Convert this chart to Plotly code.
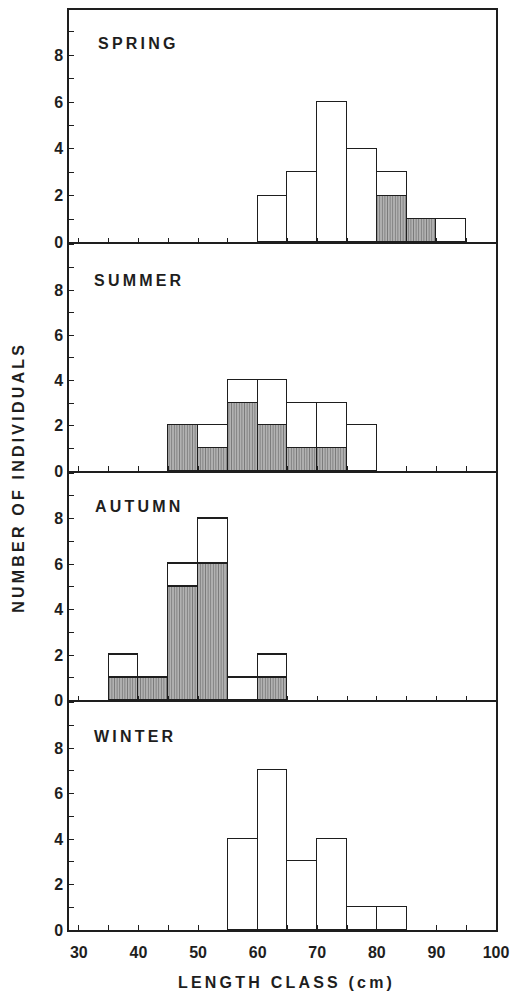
import plotly.graph_objects as go

# ---- data ----
spring_bins = [60, 65, 70, 75, 80, 85, 90]
spring_total = [2, 3, 6, 4, 3, 1, 1]
spring_shaded = [0, 0, 0, 0, 2, 1, 0]

summer_bins = [45, 50, 55, 60, 65, 70, 75]
summer_total = [2, 2, 4, 4, 3, 3, 2]
summer_shaded = [2, 1, 3, 2, 1, 1, 0]

autumn_bins = [35, 40, 45, 50, 55, 60]
autumn_total = [2, 1, 6, 8, 1, 2]
autumn_shaded = [1, 1, 5, 6, 0, 1]

winter_bins = [55, 60, 65, 70, 75, 80]
winter_total = [4, 7, 3, 4, 1, 1]
winter_shaded = [0, 0, 0, 0, 0, 0]

season_names = ["SPRING", "SUMMER", "AUTUMN", "WINTER"]
x_ticks = [30, 40, 50, 60, 70, 80, 90, 100]
y_ticks = [0, 2, 4, 6, 8]
bin_width = 5

seasons = [
    (spring_bins, spring_total, spring_shaded),
    (summer_bins, summer_total, summer_shaded),
    (autumn_bins, autumn_total, autumn_shaded),
    (winter_bins, winter_total, winter_shaded),
]

# ---- layout geometry (pixels) ----
W, H = 517, 993
ml, mr, mt, mb = 69, 14, 8, 63
pw, ph = W - ml - mr, H - mt - mb
panel_px = [(8, 241), (241, 470), (470, 700), (700, 930)]
y_tops = [9.93, 10.1, 10.1, 10.1]

FONT = "Liberation Sans, Arial, sans-serif"
INK = "#1e1e1e"
TS = "\u2009"

def spaced(s):
    return TS.join(list(s))

def nz(v):
    return [x if x != 0 else None for x in v]

fig = go.Figure()
for i, (bins, total, shaded) in enumerate(seasons):
    n = i + 1
    xa = "x" if n == 1 else f"x{n}"
    ya = "y" if n == 1 else f"y{n}"
    centers = [b + bin_width / 2 for b in bins]
    white = [t - s for t, s in zip(total, shaded)]
    fig.add_trace(go.Bar(
        x=centers, y=nz(shaded), width=bin_width, xaxis=xa, yaxis=ya,
        marker=dict(color="#b8b8b8", line=dict(color=INK, width=1.5),
                    pattern=dict(shape="|", fgcolor="#3a3a3a", bgcolor="#bdbdbd",
                                 size=2.6, solidity=0.45)),
        showlegend=False, hoverinfo="skip"))
    fig.add_trace(go.Bar(
        x=centers, y=nz(white), width=bin_width, xaxis=xa, yaxis=ya,
        marker=dict(color="white", line=dict(color=INK, width=1.5)),
        showlegend=False, hoverinfo="skip"))

layout = dict(
    width=W, height=H, barmode="stack", bargap=0,
    margin=dict(l=ml, r=mr, t=mt, b=mb),
    paper_bgcolor="white", plot_bgcolor="white",
    font=dict(family=FONT, color=INK),
)
for i in range(4):
    n = i + 1
    top_px, bot_px = panel_px[i]
    d0 = (930 - bot_px) / ph
    d1 = (930 - top_px) / ph
    xk = "xaxis" if n == 1 else f"xaxis{n}"
    yk = "yaxis" if n == 1 else f"yaxis{n}"
    layout[xk] = dict(
        domain=[0, 1], anchor="y" if n == 1 else f"y{n}",
        matches=None if n == 1 else "x",
        range=[28.35, 100], tickvals=x_ticks,
        ticktext=[str(v) for v in x_ticks],
        showticklabels=(n == 4), ticks="inside", ticklen=5, tickwidth=1.3,
        tickcolor=INK, minor=dict(dtick=5, tick0=0, ticks="inside", ticklen=5,
                                  tickwidth=1.3, tickcolor=INK),
        showline=True, linecolor=INK, linewidth=1.5, mirror=(n == 1),
        showgrid=False, zeroline=False,
        tickfont=dict(size=16, family=FONT, color=INK, weight="bold"),
        ticklabelstandoff=7, ticklabeloverflow="allow",
    )
    layout[yk] = dict(
        domain=[d0, d1], anchor="x" if n == 1 else f"x{n}",
        range=[0, y_tops[i]], tickvals=y_ticks,
        ticks="inside", ticklen=5, tickwidth=1.3, tickcolor=INK,
        minor=dict(dtick=1, tick0=0, ticks="inside", ticklen=5, tickwidth=1.3,
                   tickcolor=INK),
        showline=True, linecolor=INK, linewidth=1.5, mirror=True,
        showgrid=False, zeroline=False,
        tickfont=dict(size=16, family=FONT, color=INK, weight="bold"),
        ticklabelstandoff=1,
    )
fig.update_layout(**layout)

# panel labels
label_px = [(96, 42), (92, 279), (93, 505.5), (92, 736.5)]
for name, (px, py) in zip(season_names, label_px):
    fig.add_annotation(
        text=spaced(name), xref="paper", yref="paper",
        x=(px - ml) / pw, y=(930 - py) / ph, xanchor="left", yanchor="middle",
        showarrow=False, font=dict(size=16, family=FONT, color=INK, weight="bold"))

# axis titles
fig.add_annotation(
    text=spaced("LENGTH CLASS (cm)"), xref="paper", yref="paper",
    x=(289 - ml) / pw, y=(930 - 983) / ph, xanchor="center", yanchor="middle",
    showarrow=False, font=dict(size=16, family=FONT, color=INK, weight="bold"))
fig.add_annotation(
    text=spaced("NUMBER OF INDIVIDUALS"), xref="paper", yref="paper",
    x=(18 - ml) / pw, y=(930 - 478) / ph, xanchor="center", yanchor="middle",
    textangle=-90, showarrow=False,
    font=dict(size=16, family=FONT, color=INK, weight="bold"))

fig.write_html("out.html")
